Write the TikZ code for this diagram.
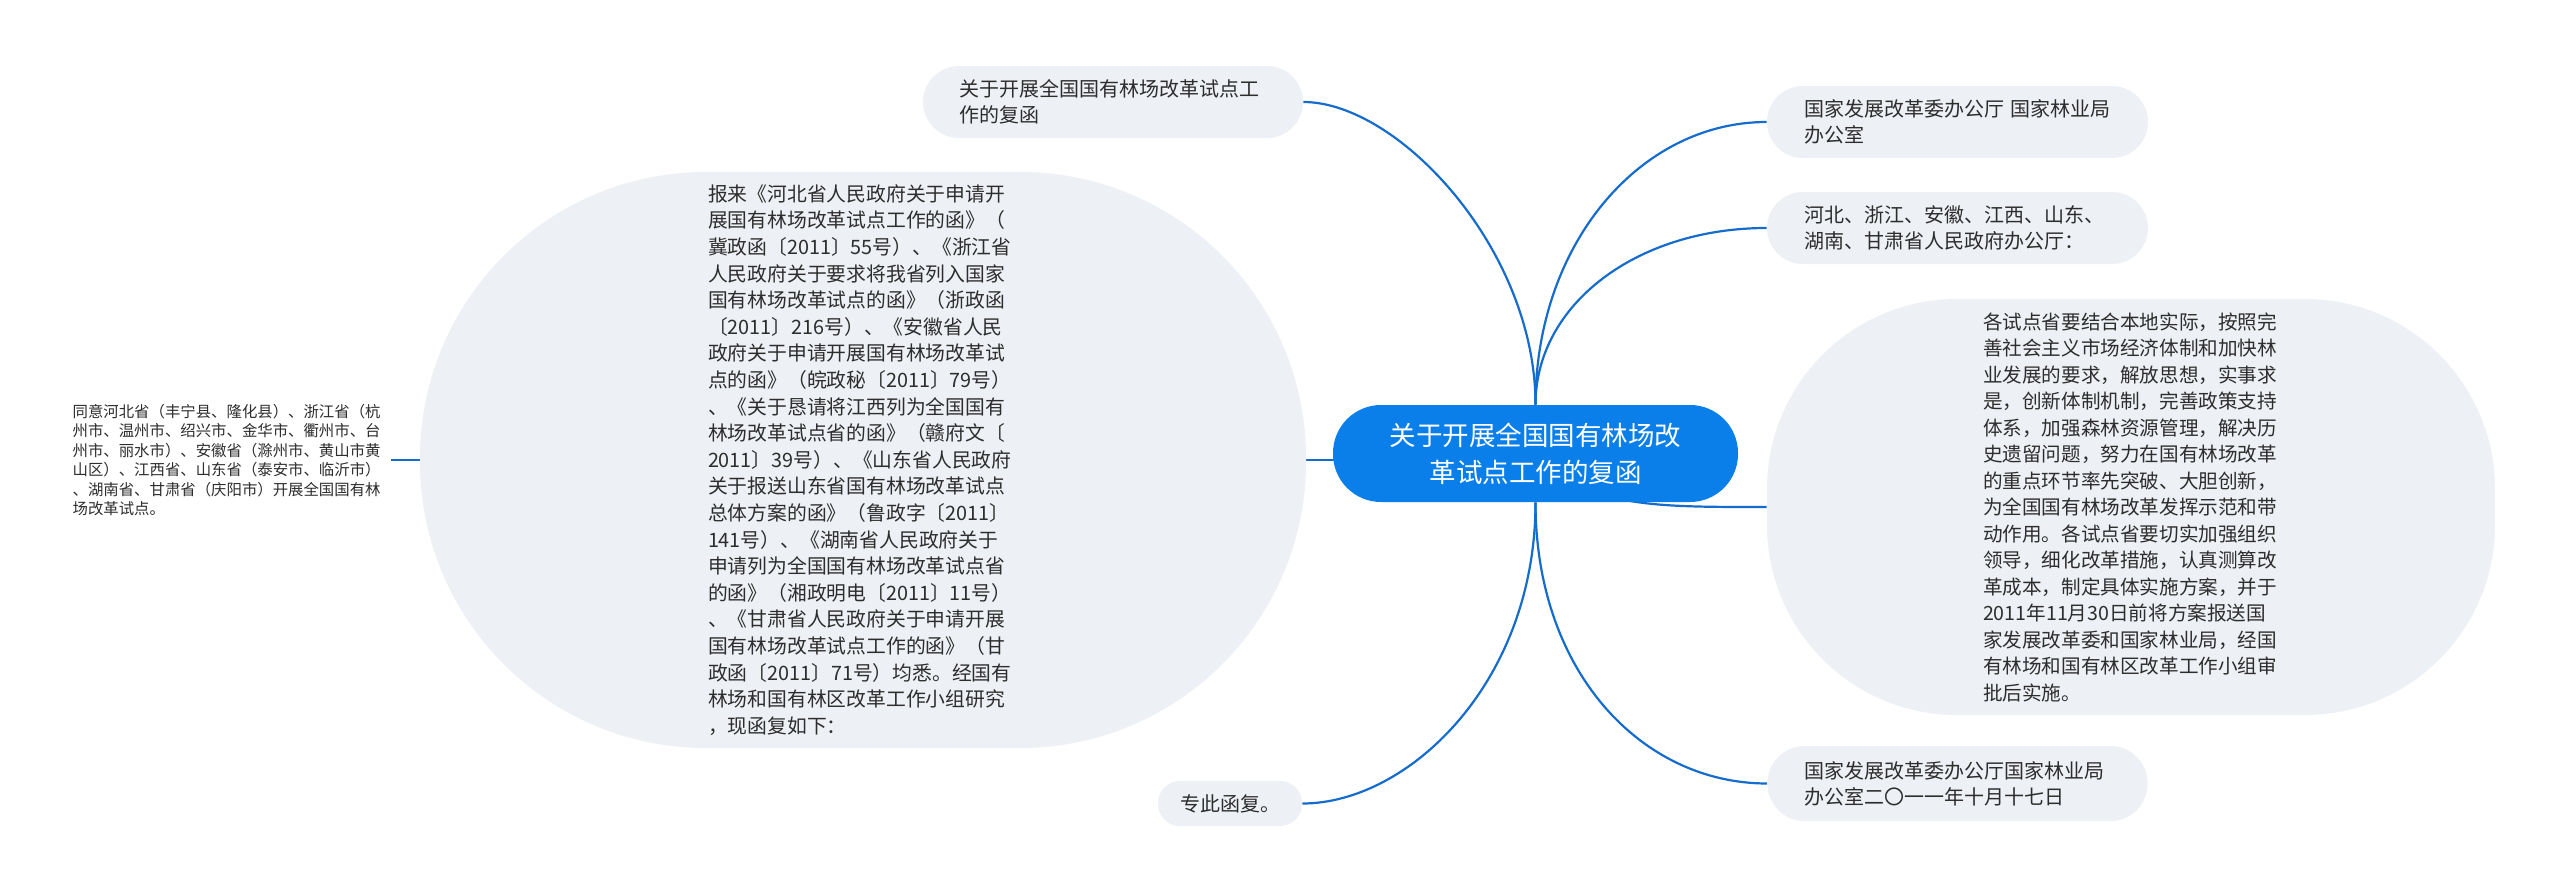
\documentclass[tikz,border=0pt]{standalone}
\usepackage{fontspec}
\setmainfont{Noto Sans CJK SC}
\usetikzlibrary{backgrounds}
\definecolor{pillbg}{RGB}{237,240,244}
\definecolor{mainblue}{RGB}{10,127,234}
\definecolor{linkblue}{RGB}{22,108,204}
\definecolor{txt}{RGB}{45,45,45}
\tikzset{
  x=0.5pt, y=-0.5pt,
  pill/.style={fill=pillbg, draw=none, align=left, inner ysep=0pt, text=txt,
    font=\fontsize{10pt}{12.9pt}\selectfont},
  bignode/.style={fill=pillbg, draw=none, align=left, inner sep=0pt, text=txt},
  centralnode/.style={fill=mainblue, draw=none, align=center, inner sep=0pt, text=white,
    minimum width=202.5pt, minimum height=48.5pt, rounded corners=24pt,
    font=\fontsize{13.25pt}{18.5pt}\selectfont},
  link/.style={draw=linkblue, line width=1.1pt}
}
\begin{document}
\begin{tikzpicture}
\useasboundingbox (0,0) rectangle (2560,894);

% central
\node[centralnode] (c) at (1535.5,453.5) {关于开展全国国有林场改\\革试点工作的复函};

% top-left
\node[pill, text width=154pt, inner xsep=18pt, minimum height=36pt, rounded corners=18pt]
  (TL) at (1113,102) {关于开展全国国有林场改革试点工\\作的复函};

% right pills
\node[pill, text width=153.5pt, inner xsep=18.5pt, minimum height=36pt, rounded corners=18pt]
  (R1) at (1957.5,122) {国家发展改革委办公厅 国家林业局\\办公室};
\node[pill, text width=153.5pt, inner xsep=18.5pt, minimum height=36pt, rounded corners=18pt]
  (R2) at (1957.5,228) {河北、浙江、安徽、江西、山东、\\湖南、甘肃省人民政府办公厅：};
\node[pill, text width=153pt, inner xsep=18.5pt, minimum height=37.5pt, rounded corners=18.5pt]
  (R4) at (1957.5,783.5) {国家发展改革委办公厅国家林业局\\办公室二〇一一年十月十七日};

% bottom small
\node[pill, align=center, minimum width=72pt, minimum height=22.5pt, rounded corners=11pt, inner xsep=0pt]
  (Z) at (1230,803.5) {专此函复。};

% big right
\node[bignode, text width=148pt, minimum width=364pt, minimum height=208pt, rounded corners=95pt,
  font=\fontsize{9.8pt}{13.25pt}\selectfont] (R3) at (2131,507) {各试点省要结合本地实际，按照完\\
善社会主义市场经济体制和加快林\\
业发展的要求，解放思想，实事求\\
是，创新体制机制，完善政策支持\\
体系，加强森林资源管理，解决历\\
史遗留问题，努力在国有林场改革\\
的重点环节率先突破、大胆创新，\\
为全国国有林场改革发挥示范和带\\
动作用。各试点省要切实加强组织\\
领导，细化改革措施，认真测算改\\
革成本，制定具体实施方案，并于\\
2011年11月30日前将方案报送国\\
家发展改革委和国家林业局，经国\\
有林场和国有林区改革工作小组审\\
批后实施。};

% big left
\node[bignode, text width=155pt, minimum width=443pt, minimum height=288pt, rounded corners=143pt,
  font=\fontsize{9.9pt}{13.3pt}\selectfont] (L) at (863,460) {报来《河北省人民政府关于申请开\\
展国有林场改革试点工作的函》（\\
冀政函〔2011〕55号）、《浙江省\\
人民政府关于要求将我省列入国家\\
国有林场改革试点的函》（浙政函\\
〔2011〕216号）、《安徽省人民\\
政府关于申请开展国有林场改革试\\
点的函》（皖政秘〔2011〕79号）\\
、《关于恳请将江西列为全国国有\\
林场改革试点省的函》（赣府文〔\\
2011〕39号）、《山东省人民政府\\
关于报送山东省国有林场改革试点\\
总体方案的函》（鲁政字〔2011〕\\
141号）、《湖南省人民政府关于\\
申请列为全国国有林场改革试点省\\
的函》（湘政明电〔2011〕11号）\\
、《甘肃省人民政府关于申请开展\\
国有林场改革试点工作的函》（甘\\
政函〔2011〕71号）均悉。经国有\\
林场和国有林区改革工作小组研究\\
，现函复如下：};

% far left
\node[draw=none, fill=white, align=left, text=txt, text width=155pt, inner xsep=4pt, inner ysep=2pt,
  anchor=east, font=\fontsize{7.7pt}{9.7pt}\selectfont] (F) at (391,460)
  {同意河北省（丰宁县、隆化县）、浙江省（杭\\
州市、温州市、绍兴市、金华市、衢州市、台\\
州市、丽水市）、安徽省（滁州市、黄山市黄\\
山区）、江西省、山东省（泰安市、临沂市）\\
、湖南省、甘肃省（庆阳市）开展全国国有林\\
场改革试点。};

\begin{pgfonlayer}{background}
\fill[white] (0,0) rectangle (2560,894);
\draw[link] (c.north) .. controls +(0,-155) and +(95,0) .. (TL.east);
\draw[link] (c.north) .. controls +(0,-160) and +(-127,0) .. (R1.west);
\draw[link] (c.north) .. controls +(0,-100) and +(-130,0) .. (R2.west);
\draw[link] (c.center) .. controls +(54,54) and +(-117,0) .. (R3.west);
\draw[link] (c.south) .. controls +(0,180) and +(106,0) .. (Z.east);
\draw[link] (c.south) .. controls +(0,170) and +(-125,0) .. (R4.west);
\draw[link] (L.east) -- (L.east -| c.center);
\draw[link] (L.west) -- (F.east);
\end{pgfonlayer}
\end{tikzpicture}
\end{document}
